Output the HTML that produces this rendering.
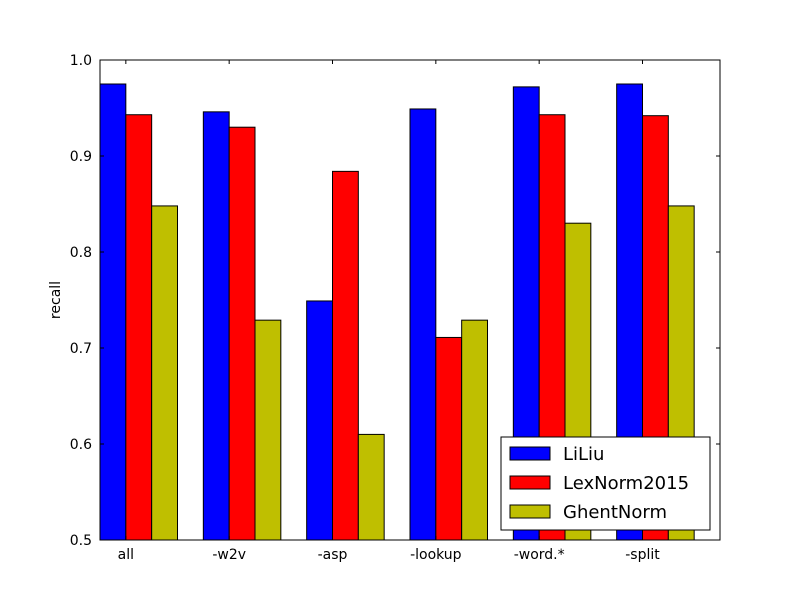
<!DOCTYPE html>
<html><head><meta charset="utf-8"><style>
body{margin:0;background:#fff}
svg text{font-family:"DejaVu Sans","Liberation Sans",sans-serif}
</style></head><body>
<svg id="chart" width="800" height="600">
<rect width="800" height="600" fill="#fff"/>
<g id="bars"></g>
<g id="axes"></g>
</svg>
<script>
const categories=["all","-w2v","-asp","-lookup","-word.*","-split"];
const seriesNames=["LiLiu","LexNorm2015","GhentNorm"];
const liliu=[0.975,0.946,0.749,0.949,0.972,0.975];
const lexnorm=[0.943,0.930,0.884,0.711,0.943,0.942];
const ghent=[0.848,0.729,0.610,0.729,0.830,0.848];
const yTicks=[0.5,0.6,0.7,0.8,0.9,1.0];
const yTickLabels=["0.5","0.6","0.7","0.8","0.9","1.0"];
const colors=["#0000ff","#ff0000","#bfbf00"];
const L=100,R=720,T=60,B=540,ymin=0.5,ymax=1.0,W=0.25;
const xs=v=>L+(R-L)*v/6;
const ys=v=>B-(B-T)*(v-ymin)/(ymax-ymin);
const NS="http://www.w3.org/2000/svg";
const bars=document.getElementById('bars'),axes=document.getElementById('axes');
function mk(tag,attrs,parent){const e=document.createElementNS(NS,tag);for(const k in attrs)e.setAttribute(k,attrs[k]);parent.appendChild(e);return e;}
[liliu,lexnorm,ghent].forEach((s,si)=>{s.forEach((v,i)=>{
 const x0=xs(i+si*W),x1=xs(i+(si+1)*W);
 const r=mk('rect',{x:x0,y:ys(v),width:x1-x0,height:B-ys(v),fill:colors[si],stroke:'#000','stroke-width':1},bars);
 
 
});});
const frame=mk('rect',{x:L,y:T,width:R-L,height:B-T,fill:'none',stroke:'#000','stroke-width':1},axes);


yTicks.forEach((v,i)=>{
 const y=ys(v);
 mk('line',{x1:L,x2:L+4,y1:y,y2:y,stroke:'#000'},axes);
 mk('line',{x1:R,x2:R-4,y1:y,y2:y,stroke:'#000'},axes);
 const t=mk('text',{x:L-8,y:y+5,'text-anchor':'end','font-size':14},axes);
 t.textContent=yTickLabels[i];
 
 
});
categories.forEach((c,i)=>{
 const x=xs(i+W);
 mk('line',{x1:x,x2:x,y1:B,y2:B-4,stroke:'#000'},axes);
 mk('line',{x1:x,x2:x,y1:T,y2:T+4,stroke:'#000'},axes);
 const t=mk('text',{x:x,y:B+19,'text-anchor':'middle','font-size':14},axes);
 t.textContent=c;
 
 
});
const yt=mk('text',{x:60,y:300,'text-anchor':'middle','font-size':14,transform:'rotate(-90 60 300)'},axes);
yt.textContent='recall';


const lg=mk('g',{},axes);


mk('rect',{x:501,y:437,width:209,height:93,fill:'#fff',stroke:'#000'},lg);
seriesNames.forEach((n,i)=>{
 const y=453+29*i;
 const sw=mk('rect',{x:510,y:y-6,width:40,height:13,fill:colors[i],stroke:'#000'},lg);
 
 
 const t=mk('text',{x:563,y:y+7,'font-size':18},lg);
 t.textContent=n;
 
 
});
</script>
</body></html>
